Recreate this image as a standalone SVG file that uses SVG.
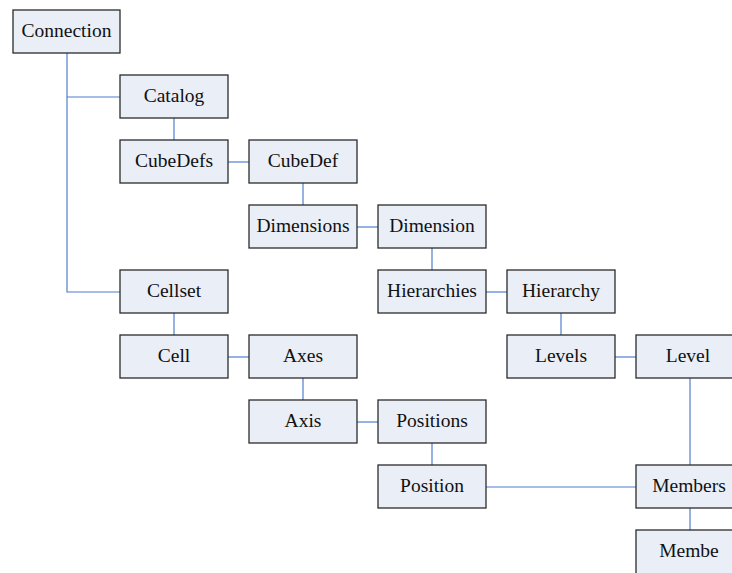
<svg xmlns="http://www.w3.org/2000/svg" width="732" height="573" viewBox="0 0 732 573">
<style>
.n rect{fill:#e9eef7;stroke:#2b2b2b;stroke-width:1.3}
.n text{font-family:"Liberation Serif","Times New Roman",serif;font-size:19.5px;fill:#111;text-anchor:middle}
#edges path{stroke:#4f7fcf;stroke-width:1.2;fill:none}
</style>
<rect width="732" height="573" fill="#fff"/>
<g id="edges">
<path d="M67 53V292H120M67 97H120"/>
<path d="M174 118V140"/>
<path d="M228 162H249"/>
<path d="M303 183V205"/>
<path d="M357 227H378"/>
<path d="M432 248V270"/>
<path d="M486 292H507"/>
<path d="M561 313V335"/>
<path d="M615 357H636"/>
<path d="M690 378V465"/>
<path d="M174 313V335"/>
<path d="M228 357H249"/>
<path d="M303 378V400"/>
<path d="M357 422H378"/>
<path d="M432 443V465"/>
<path d="M486 487H636"/>
<path d="M690 508V530"/>
</g>
<g id="connection" class="n"><rect x="13" y="10" width="107" height="43"/><text x="66.5" y="37">Connection</text></g>
<g id="catalog" class="n"><rect x="120" y="75" width="108" height="43"/><text x="174" y="102">Catalog</text></g>
<g id="cubedefs" class="n"><rect x="120" y="140" width="108" height="43"/><text x="174" y="167">CubeDefs</text></g>
<g id="cubedef" class="n"><rect x="249" y="140" width="108" height="43"/><text x="303" y="167">CubeDef</text></g>
<g id="dimensions" class="n"><rect x="249" y="205" width="108" height="43"/><text x="303" y="232">Dimensions</text></g>
<g id="dimension" class="n"><rect x="378" y="205" width="108" height="43"/><text x="432" y="232">Dimension</text></g>
<g id="hierarchies" class="n"><rect x="378" y="270" width="108" height="43"/><text x="432" y="297">Hierarchies</text></g>
<g id="hierarchy" class="n"><rect x="507" y="270" width="108" height="43"/><text x="561" y="297">Hierarchy</text></g>
<g id="levels" class="n"><rect x="507" y="335" width="108" height="43"/><text x="561" y="362">Levels</text></g>
<g id="level" class="n"><rect x="636" y="335" width="108" height="43"/><text x="688" y="362">Level</text></g>
<g id="cellset" class="n"><rect x="120" y="270" width="108" height="43"/><text x="174" y="297">Cellset</text></g>
<g id="cell" class="n"><rect x="120" y="335" width="108" height="43"/><text x="174" y="362">Cell</text></g>
<g id="axes" class="n"><rect x="249" y="335" width="108" height="43"/><text x="303" y="362">Axes</text></g>
<g id="axis" class="n"><rect x="249" y="400" width="108" height="43"/><text x="303" y="427">Axis</text></g>
<g id="positions" class="n"><rect x="378" y="400" width="108" height="43"/><text x="432" y="427">Positions</text></g>
<g id="position" class="n"><rect x="378" y="465" width="108" height="43"/><text x="432" y="492">Position</text></g>
<g id="members" class="n"><rect x="636" y="465" width="108" height="43"/><text x="689" y="492">Members</text></g>
<g id="membe" class="n"><rect x="636" y="530" width="108" height="50"/><text x="689" y="557">Membe</text></g>
</svg>
